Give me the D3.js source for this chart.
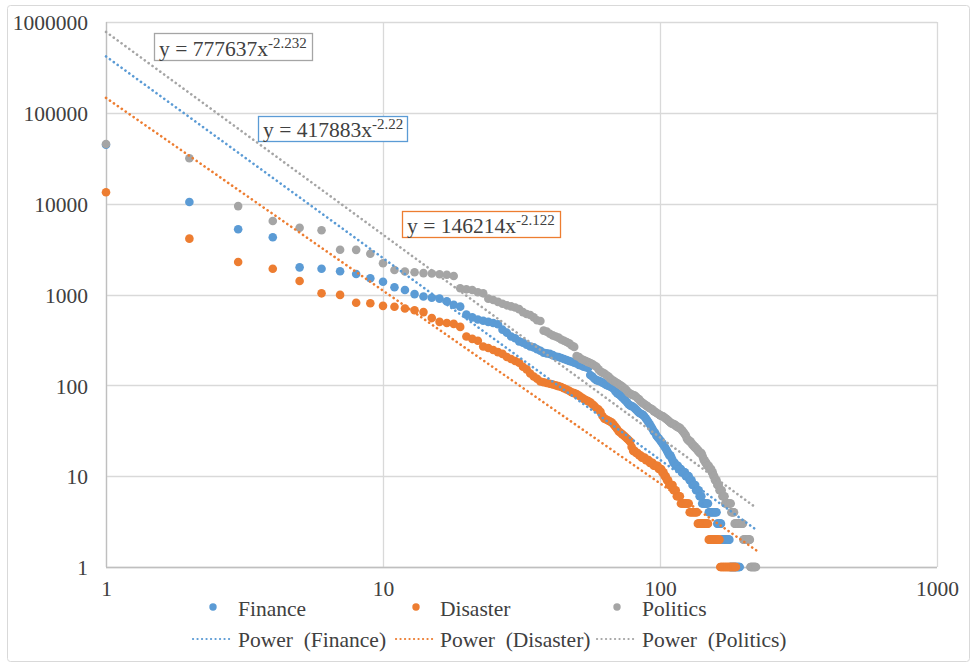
<!DOCTYPE html>
<html><head><meta charset="utf-8">
<script src="https://cdn.jsdelivr.net/npm/d3@7"></script>
<style>
body{margin:0;background:#fff}
svg{display:block}
text{font-family:"Liberation Serif","Times New Roman",serif;fill:#404040;font-size:21.5px}
</style>
</head><body><svg id="c" width="974" height="664"></svg>
<script>
// ---- data (rank-ordered frequencies) ----
const seriesNames = ["Finance", "Disaster", "Politics"];
const finance = [44500, 10430, 5220, 4270, 1990, 1920, 1800, 1680, 1510, 1380, 1200, 1120,
  1010, 950, 920, 900, 840, 770, 735,
  600, 560, 530, 515, 500, 485, 470,
  410, 380, 345, 330, 305, 295, 280, 268, 262, 250, 240,
  228, 225, 222, 215, 208, 205, 200, 195, 190, 185, 182, 178, 174, 168, 165, 160, 158, 155,
  130, 125, 118, 114, 112, 110, 107, 104, 101, 99, 97, 95, 92,
  86, 82, 80, 77, 74, 71, 68, 65, 62, 60, 59, 58, 56, 54, 52, 50, 49, 48, 47, 45, 43, 41, 39, 37, 35, 33, 31, 30, 28, 27, 26, 25,
  24, 23, 22, 21, 20, 19, 18, 17, 17, 16, 15, 14, 14, 13, 13, 13, 12, 12, 12, 11, 11, 11, 11, 10, 10, 10, 10, 9, 9, 9, 8, 8, 8, 8, 7, 7, 7, 7, 6, 6, 6,
  5, 5, 5, 5, 5, 5, 5, 5,
  4, 4, 4, 4, 4, 4, 4, 4, 4, 4, 4,
  3, 3, 3, 3, 3, 3,
  2, 2, 2, 2, 2, 2, 2, 2, 2, 2, 2, 2,
  1, 1, 1, 1, 1, 1, 1, 1, 1, 1, 1, 1, 1, 1, 1, 1];
const disaster = [13340, 4120, 2280, 1920, 1410, 1030, 990, 810, 800, 750, 734, 700,
  670, 640, 550, 500, 485, 475, 440,
  345, 325, 310, 268, 258, 245, 232, 222, 205, 195, 185, 178,
  160, 150, 135, 125, 118, 110,
  108, 106, 104, 102, 100, 98, 96, 93, 90, 87, 84, 82, 80, 77, 74, 71, 69, 67, 65, 62, 59, 56, 54, 51,
  46, 43, 42, 41, 40, 39, 37, 35, 33, 31, 30, 29, 28, 27, 26, 25, 24,
  21, 19, 19, 18, 18, 17, 17, 16, 16, 16, 15, 15, 15, 14, 14, 14, 13, 13, 13, 13, 12, 12, 12, 11, 11, 10, 10, 9, 9, 8, 8, 8, 8, 7, 7, 7, 6, 6, 6, 6,
  5, 5, 5, 5, 5, 5, 5, 5, 5,
  4, 4, 4, 4, 4, 4, 4, 4, 4,
  3, 3, 3, 3, 3, 3, 3, 3, 3, 3, 3, 3, 3,
  2, 2, 2, 2, 2, 2, 2, 2, 2, 2, 2, 2, 2, 2, 2,
  1, 1, 1, 1, 1, 1, 1, 1, 1, 1, 1, 1, 1, 1, 1, 1, 1, 1, 1, 1, 1, 1, 1, 1];
const politics = [45400, 31600, 9400, 6450, 5440, 5090, 3110, 3100, 2810, 2210, 1860, 1790,
  1760, 1720, 1700, 1670, 1650, 1600,
  1170, 1140, 1120, 1060, 1030, 900, 870, 830, 790, 760, 740, 720, 690, 640, 610, 595, 560, 520, 510,
  400, 390, 370, 355, 345, 335, 320, 310, 300, 290, 275, 265,
  210, 205, 195, 190, 185, 180, 176, 172, 165, 160, 150, 142, 138, 135, 130, 126, 120, 115, 112, 109, 106, 103, 100,
  97, 94, 91, 87, 83, 81, 79, 78, 77, 75, 72, 70, 67, 65, 63, 62, 60, 59, 57, 56, 55, 54, 52, 51, 50, 49, 48, 47,
  46, 46, 45, 44, 43, 42, 41, 40, 39, 38, 38, 37, 37, 36, 35, 35, 34, 34, 33, 32, 31, 30, 29, 28, 26, 25, 25, 24, 24, 23,
  22, 22, 21, 21, 20, 20, 19, 19, 18, 18, 18, 17, 16, 15, 15, 14, 14, 13, 13, 13, 12, 12, 12, 11, 11, 10, 10, 9, 9, 9,
  8, 8, 8, 7, 7, 7, 7, 6, 6, 6, 6,
  5, 5, 5, 5, 5, 5, 5, 5, 5,
  4, 4, 4, 4, 4,
  3, 3, 3, 3, 3, 3, 3, 3, 3, 3, 3, 3, 3, 3,
  2, 2, 2, 2, 2, 2, 2, 2, 2, 2, 2, 2,
  1, 1, 1, 1, 1, 1, 1, 1, 1, 1, 1];
const xTicks = [1, 10, 100, 1000];
const yTicks = [1, 10, 100, 1000, 10000, 100000, 1000000];
// power trendlines y = a * x^b
const trendA = [417883, 146214, 777637];
const trendB = [-2.22, -2.122, -2.232];
const trendXMax = [224, 226, 220];
const eqCoef = ["417883", "146214", "777637"];
const eqExp = ["-2.22", "-2.122", "-2.232"];

// ---- styling / layout ----
const colors = ["#5B9BD5", "#ED7D31", "#A5A5A5"];
const eqBox = [{x: 258.5, y: 116.5, w: 149, h: 25}, {x: 402.5, y: 211.5, w: 158, h: 26}, {x: 154.5, y: 33.5, w: 158, h: 27}];
const svg = d3.select("#c");

svg.append("rect").attr("x", 7.5).attr("y", 5.5).attr("width", 962).attr("height", 656)
  .attr("fill", "#fff").attr("stroke", "#d9d9d9").attr("rx", 3);

const x = d3.scaleLog().domain([1, 1000]).range([106, 937]);
const y = d3.scaleLog().domain([1, 1e6]).range([567, 22]);

// gridlines
const grid = svg.append("g");
grid.selectAll(".h").data(yTicks).join("line")
  .attr("x1", x(1)).attr("x2", x(1000))
  .attr("y1", d => Math.round(y(d)) + 0.5).attr("y2", d => Math.round(y(d)) + 0.5)
  .attr("stroke", "#d9d9d9").attr("stroke-width", 1.3);
grid.selectAll(".v").data(xTicks).join("line")
  .attr("y1", y(1e6)).attr("y2", y(1))
  .attr("x1", d => Math.round(x(d)) + 0.5).attr("x2", d => Math.round(x(d)) + 0.5)
  .attr("stroke", "#d9d9d9").attr("stroke-width", 1.3);
// axis lines
svg.append("line").attr("x1", Math.round(x(1)) + 0.5).attr("x2", Math.round(x(1)) + 0.5)
  .attr("y1", y(1e6)).attr("y2", y(1)).attr("stroke", "#bfbfbf").attr("stroke-width", 1.3);
svg.append("line").attr("x1", x(1)).attr("x2", x(1000))
  .attr("y1", Math.round(y(1)) + 0.5).attr("y2", Math.round(y(1)) + 0.5)
  .attr("stroke", "#bfbfbf").attr("stroke-width", 1.3);

// axes (tick labels)
const yAxis = d3.axisLeft(y).tickValues(yTicks).tickFormat(d3.format("d")).tickSize(0).tickPadding(18);
const gy = svg.append("g").attr("transform", `translate(${x(1)},0)`).call(yAxis);
gy.select(".domain").remove();
gy.selectAll("text").attr("fill", "#404040").style("font-size", "21.5px")
  .style("font-family", '"Liberation Serif", serif').attr("dy", "0.36em");
const xAxis = d3.axisBottom(x).tickValues(xTicks).tickFormat(d3.format("d")).tickSize(0).tickPadding(14);
const gx = svg.append("g").attr("transform", `translate(0,${y(1)})`).call(xAxis);
gx.select(".domain").remove();
gx.selectAll("text").attr("fill", "#404040").style("font-size", "21.5px")
  .style("font-family", '"Liberation Serif", serif');

// scatter points
const all = [finance, disaster, politics];
all.forEach((vals, i) => {
  svg.append("g").selectAll("circle").data(vals).join("circle")
    .attr("cx", (d, k) => x(k + 1)).attr("cy", d => y(d)).attr("r", 4.3)
    .attr("fill", colors[i]);
});

// trendlines
all.forEach((vals, i) => {
  const pts = [1, trendXMax[i]].map(v => [v, trendA[i] * Math.pow(v, trendB[i])]);
  svg.append("path").datum(pts)
    .attr("d", d3.line().x(d => x(d[0])).y(d => y(d[1])))
    .attr("fill", "none").attr("stroke", colors[i]).attr("stroke-width", 2.6)
    .attr("stroke-linecap", "round").attr("stroke-dasharray", "0.1 4.7");
});

// equation labels
[2, 0, 1].forEach(i => {
  const b = eqBox[i];
  const g = svg.append("g");
  g.append("rect").attr("x", b.x).attr("y", b.y).attr("width", b.w).attr("height", b.h)
    .attr("fill", "#fff").attr("stroke", colors[i]).attr("stroke-width", 1.3);
  const t = g.append("text").attr("x", b.x + 4.5).attr("y", b.y + b.h - 5).style("white-space", "pre");
  t.append("tspan").text("y = " + eqCoef[i] + "x");
  t.append("tspan").attr("dy", -8).style("font-size", "15px").text(eqExp[i]);
});

// legend
const legX = [213, 416, 617];
const legTX = [238, 440, 642];
seriesNames.forEach((n, i) => {
  svg.append("circle").attr("cx", legX[i]).attr("cy", 607).attr("r", 3.7).attr("fill", colors[i]);
  svg.append("text").attr("x", legTX[i]).attr("y", 616).text(n);
  svg.append("line").attr("x1", legX[i] - 20).attr("x2", legX[i] + 19).attr("y1", 639).attr("y2", 639)
    .attr("stroke", colors[i]).attr("stroke-width", 2.2).attr("stroke-linecap", "round")
    .attr("stroke-dasharray", "0.1 4.4");
  svg.append("text").attr("x", legTX[i]).attr("y", 647).style("white-space", "pre")
    .text("Power  (" + n + ")");
});
</script></body></html>
